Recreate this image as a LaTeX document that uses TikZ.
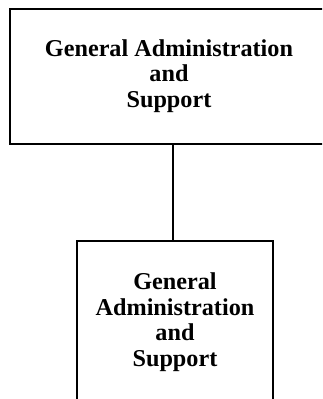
\documentclass[tikz,border=0pt]{standalone}
\usepackage{fontspec}
\setmainfont{Liberation Serif}
\begin{document}
\begin{tikzpicture}[x=1pt,y=1pt,
  box/.style={draw=black,line width=1.3pt,inner sep=0pt},
  label/.style={align=center,font=\fontsize{24.2}{25.5}\selectfont\bfseries,inner sep=0pt},
  link/.style={draw=black,line width=1.2pt}]
  \useasboundingbox (0,0) rectangle (322,-399);
  \clip (0,0) rectangle (322,-399);
  % upper box runs past the right margin
  \node[box,minimum width=326,minimum height=135] (top) at (173,-76.5) {};
  \node[label] (toptext) at (169,-76) {General Administration\\and\\Support};
  % lower box runs past the bottom margin
  \node[box,minimum width=196,minimum height=164] (bot) at (175,-323) {};
  \node[label] (bottext) at (175,-322) {General\\Administration\\and\\Support};
  \draw[link] (top.south) -- (top.south |- bot.north);
\end{tikzpicture}
\end{document}
